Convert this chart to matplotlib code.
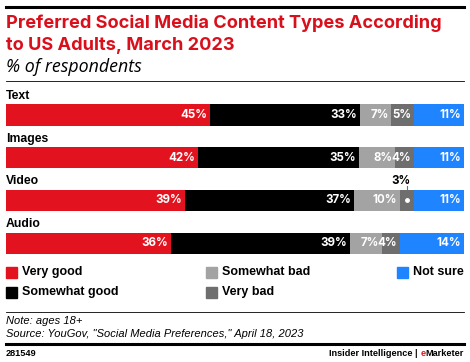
import matplotlib
matplotlib.use("Agg")
import matplotlib.pyplot as plt
from matplotlib.patches import Rectangle
from matplotlib.lines import Line2D

categories = ["Text", "Images", "Video", "Audio"]
series_names = ["Very good", "Somewhat good", "Somewhat bad", "Very bad", "Not sure"]
very_good = [45, 42, 39, 36]
somewhat_good = [33, 35, 37, 39]
somewhat_bad = [7, 8, 10, 7]
very_bad = [5, 4, 3, 4]
not_sure = [11, 11, 11, 14]
series = [very_good, somewhat_good, somewhat_bad, very_bad, not_sure]
colors = ["#E2131E", "#000000", "#A3A3A3", "#6E6E6E", "#1E84FF"]

W, H = 470, 362
FONT = "Liberation Sans"
TFONT = "Inter"
fig = plt.figure(figsize=(W / 100, H / 100), dpi=100)

def fy(py):
    return 1 - py / H

def fx(px):
    return px / W

# top rule
fig.add_artist(Line2D([fx(6), fx(464)], [fy(7), fy(7)], color="black", lw=2.2))
fig.text(fx(6), fy(23), "Preferred Social Media Content Types According", color="#D9101C",
         fontsize=13.1, fontweight="bold", family=TFONT, va="center", ha="left")
fig.text(fx(6), fy(45), "to US Adults, March 2023", color="#D9101C",
         fontsize=13.1, fontweight="bold", family=TFONT, va="center", ha="left")
fig.text(fx(6), fy(67.5), "% of respondents", color="black",
         fontsize=12.8, style="italic", family="Open Sans", va="center", ha="left")
fig.add_artist(Line2D([fx(6), fx(464)], [fy(81), fy(81)], color="black", lw=0.6))

# bar axes
top_px, bot_px = 93.6, 264.6
ax = fig.add_axes([fx(6), fy(bot_px), fx(458), (bot_px - top_px) / H])
ax.set_xlim(0, 1)
ax.set_ylim(len(categories) - 0.5, -0.5)
ax.axis("off")

for i, cat in enumerate(categories):
    total = sum(s[i] for s in series)
    left = 0.0
    for j, s in enumerate(series):
        w = s[i] / total
        ax.barh(i, w, left=left, height=0.5, color=colors[j], edgecolor="none")
        if not (cat == "Video" and j == 3):
            ax.text(left + w - 0.006, i, f"{s[i]}%", color="white", fontsize=8.3,
                    fontweight="bold", family=TFONT, ha="right", va="center")
        else:
            cx = left + w / 2
            ax.plot([cx, cx], [i - 0.33, i], color="#6E6E6E", lw=0.8)
            ax.plot([cx], [i], marker="o", ms=2.5, color="white", mec="white")
            ax.text(cx - 0.012, i - 0.45, f"{s[i]}%", color="black", fontsize=8.3,
                    fontweight="bold", family=TFONT, ha="center", va="center")
        left += w
    ax.text(0, i - 0.445, cat, color="black", fontsize=8.8, fontweight="bold",
            family=FONT, ha="left", va="center")

# legend
leg_pos = [(6, 272), (6, 292.5), (206, 272), (206, 292.5), (397, 272)]
for (px, py), name, c in zip(leg_pos, series_names, colors):
    fig.add_artist(Rectangle((fx(px), fy(py + 5.5)), fx(11), 11 / H, color=c,
                             transform=fig.transFigure))
    fig.text(fx(px + 16), fy(py), name, fontsize=9, fontweight="bold", family=FONT,
             ha="left", va="center")

fig.add_artist(Line2D([fx(6), fx(464)], [fy(311.5), fy(311.5)], color="black", lw=0.6))
fig.text(fx(6), fy(320.5), "Note: ages 18+", fontsize=8, style="italic", family=FONT,
         ha="left", va="center")
fig.text(fx(6), fy(334), 'Source: YouGov, "Social Media Preferences," April 18, 2023',
         fontsize=8, style="italic", family=FONT, ha="left", va="center")
fig.add_artist(Line2D([fx(6), fx(464)], [fy(343.5), fy(343.5)], color="black", lw=2.2))
fig.text(fx(6), fy(353), "281549", fontsize=6.6, fontweight="bold", family=FONT,
         ha="left", va="center")

# footer right with red "e"
renderer = fig.canvas.get_renderer()
t3 = fig.text(fx(464), fy(353), "Marketer", fontsize=6.6, fontweight="bold", family=FONT,
              ha="right", va="center")
bb = t3.get_window_extent(renderer)
t2 = fig.text(bb.x0 / W, fy(353), "e", fontsize=6.6, fontweight="bold", family=FONT,
              ha="right", va="center", color="#E2131E")
bb2 = t2.get_window_extent(renderer)
fig.text(bb2.x0 / W, fy(353), "Insider Intelligence | ", fontsize=6.6, fontweight="bold",
         family=FONT, ha="right", va="center")

fig.savefig("out.png", dpi=100, facecolor="white")
